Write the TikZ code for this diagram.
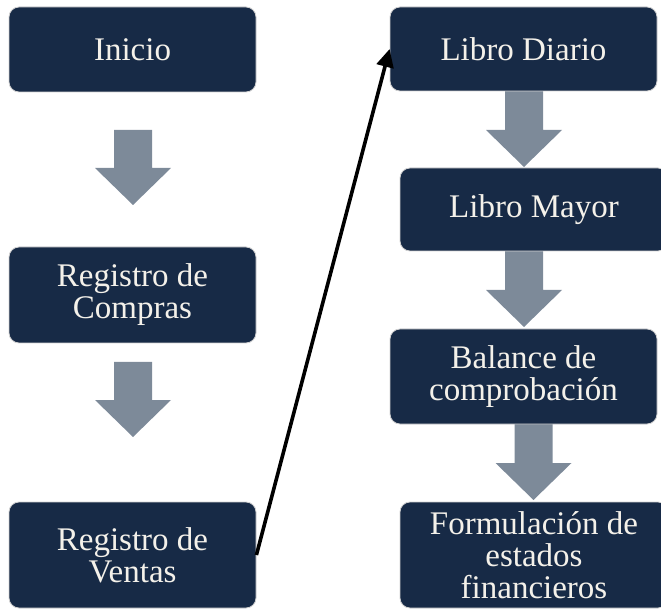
\documentclass[tikz,border=0pt]{standalone}
\usepackage{fontspec}
\setmainfont{Liberation Serif}
\usetikzlibrary{arrows.meta}
\definecolor{navy}{HTML}{172A46}
\definecolor{flechagris}{HTML}{7D8A99}
\definecolor{crema}{HTML}{F4F1EA}
\tikzset{
  caja/.style={draw=gray!35, line width=0.8pt, fill=navy, rounded corners=10pt,
    text=crema, align=center, inner sep=0pt,
    font=\fontsize{33}{32}\selectfont},
}
\begin{document}
\begin{tikzpicture}[x=1pt, y=-1pt]
    \clip (0,0) rectangle (661,609);

    % flechas grises
    \foreach \cx/\ya/\yb/\yc in {133/130/168/205, 133/362/400/437, 524/91/130/167, 524/251/290/327, 533.5/424/463/500}
    \fill[flechagris] (\cx-19,\ya) -- (\cx+19,\ya) -- (\cx+19,\yb) -- (\cx+38,\yb)
      -- (\cx,\yc) -- (\cx-38,\yb) -- (\cx-19,\yb) -- cycle;

    % columna izquierda
    \node[caja, minimum width=247pt, minimum height=85pt] (inicio) at (132.5,49.5) {Inicio};
    \node[caja, minimum width=247pt, minimum height=96pt] (compras) at (132.5,295) {Registro de\\Compras};
    \node[caja, minimum width=247pt, minimum height=106pt] (ventas) at (132.5,555) {Registro de\\Ventas};

    % columna derecha
    \node[caja, minimum width=267pt, minimum height=84pt] (diario) at (523.5,49) {Libro Diario};
    \node[caja, minimum width=268pt, minimum height=83pt] (mayor) at (534,209.5) {Libro Mayor};
    \node[caja, minimum width=267pt, minimum height=95pt] (balance) at (523.5,376.5) {Balance de\\comprobación};
    \node[caja, minimum width=268pt, minimum height=106pt] (estados) at (534,555) {Formulación de\\estados\\financieros};

    \draw[line width=3.6pt, -{Triangle[length=18pt, width=17pt]}] (ventas.east) -- (diario.west);

\end{tikzpicture}
\end{document}
